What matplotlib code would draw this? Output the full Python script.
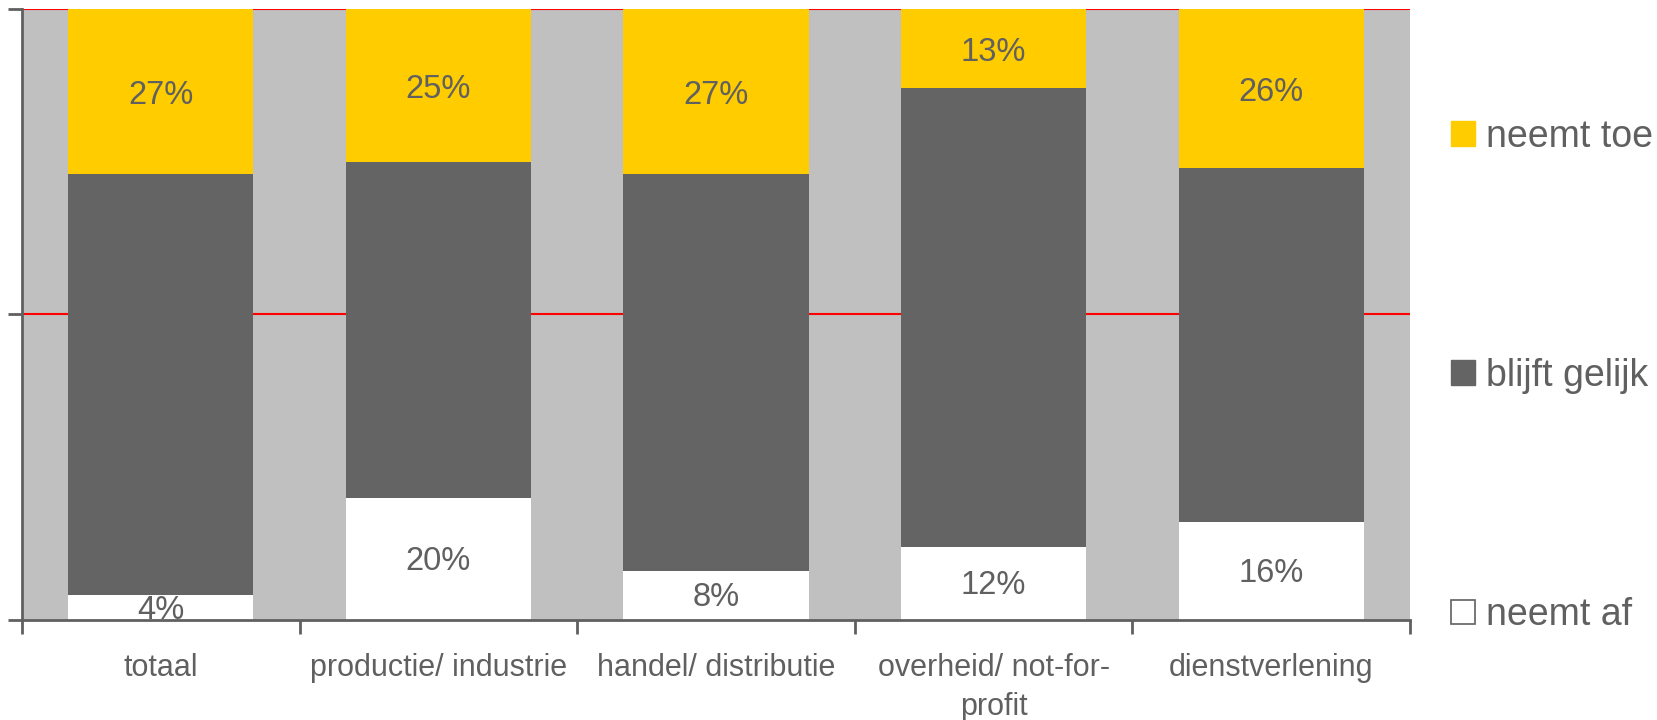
import matplotlib
matplotlib.use("Agg")
import matplotlib.pyplot as plt
from matplotlib.patches import Patch
import numpy as np

categories = ["totaal", "productie/ industrie", "handel/ distributie",
              "overheid/ not-for-\nprofit", "dienstverlening"]
neemt_af = [4, 20, 8, 12, 16]
blijft_gelijk = [69, 55, 65, 75, 58]
neemt_toe = [27, 25, 27, 13, 26]

plt.rcParams["font.family"] = ["Liberation Sans", "DejaVu Sans"]
text_color = "#606060"
c_toe = "#FFCC00"
c_gelijk = "#646464"
c_af = "#FFFFFF"

fig = plt.figure(figsize=(16.57, 7.2), dpi=100)
ax = fig.add_axes([0.0133, 0.139, 0.8377, 0.8485])
ax.set_facecolor("#C0C0C0")

x = np.arange(len(categories))
w = 0.667
af = np.array(neemt_af) / 100
gl = np.array(blijft_gelijk) / 100
tq = np.array(neemt_toe) / 100

ax.bar(x, af, w, color=c_af, zorder=3)
ax.bar(x, gl, w, bottom=af, color=c_gelijk, zorder=3)
ax.bar(x, tq, w, bottom=af + gl, color=c_toe, zorder=3)

fs_val = 23.5
for xi, a, t, top_base in zip(x, neemt_af, neemt_toe, af + gl):
    ax.text(xi, a / 200 - 0.004, f"{a}%", ha="center", va="center",
            fontsize=fs_val, color=text_color, zorder=4)
    ax.text(xi, top_base + t / 200 - 0.006, f"{t}%", ha="center", va="center",
            fontsize=fs_val, color=text_color, zorder=4)

ax.set_xlim(-0.5, len(categories) - 0.5)
ax.set_ylim(0, 1)

# red reference lines behind the bars
for yv in (0.5, 1.0):
    ax.axhline(yv, color="#FF0000", lw=1.5, zorder=1)

ax.set_yticks([0, 0.5, 1.0])
ax.set_yticklabels([])
ax.tick_params(axis="y", direction="out", length=10, width=2, color=text_color)

ax.set_xticks(np.arange(-0.5, len(categories)), minor=False)
ax.set_xticklabels([])
ax.set_xticks(x, minor=True)
ax.set_xticklabels(categories, minor=True, fontsize=22, color=text_color,
                   linespacing=1.38)
ax.tick_params(axis="x", which="major", direction="out", length=10, width=2,
               color=text_color)
ax.tick_params(axis="x", which="minor", length=0, pad=24)

for s in ("top", "right"):
    ax.spines[s].set_visible(False)
for s in ("left", "bottom"):
    ax.spines[s].set_color(text_color)
    ax.spines[s].set_linewidth(2)
    ax.spines[s].set_zorder(5)

handles = [Patch(facecolor=c_toe, edgecolor=c_toe),
           Patch(facecolor=c_gelijk, edgecolor=c_gelijk),
           Patch(facecolor=c_af, edgecolor=text_color, linewidth=1.2)]
labels = ["neemt toe", "blijft gelijk", "neemt af"]
leg = fig.legend(handles, labels, loc="upper left",
                 bbox_to_anchor=(0.8665, 0.856), frameon=False,
                 fontsize=27, labelcolor=text_color, labelspacing=5.42,
                 handlelength=0.64, handleheight=0.64, handletextpad=0.3,
                 borderaxespad=0)

fig.savefig("out.png", dpi=100)
